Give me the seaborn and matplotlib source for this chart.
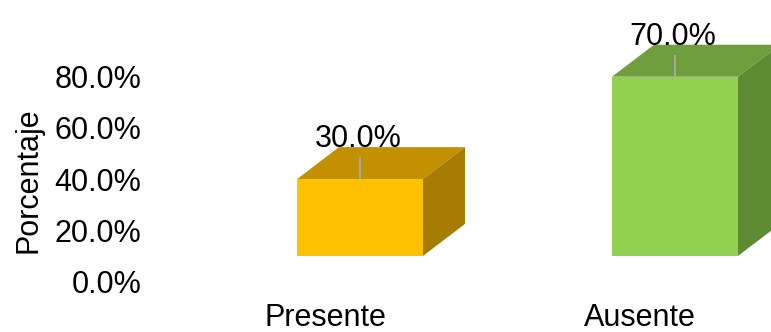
import matplotlib
matplotlib.use("Agg")
import matplotlib.pyplot as plt
from matplotlib.patches import Polygon
from matplotlib.transforms import ScaledTranslation
import seaborn as sns
import pandas as pd

categorias = ["Presente", "Ausente"]
porcentajes = [30.0, 70.0]
colores_frente = ["#FFC000", "#92D050"]
colores_techo = ["#C39100", "#6F9E3D"]
colores_lado = ["#A67C00", "#5E8A31"]
ticks_y = [0, 20, 40, 60, 80]

sns.set_theme(style="white")
plt.rcParams["font.family"] = ["Liberation Sans", "DejaVu Sans"]
plt.rcParams["text.color"] = "black"
plt.rcParams["xtick.color"] = "black"
plt.rcParams["ytick.color"] = "black"

df = pd.DataFrame({"categoria": categorias, "porcentaje": porcentajes})

fig = plt.figure(figsize=(7.71, 3.32), dpi=100)
ax = fig.add_axes([0.2218, 0.1521, 0.7763, 0.8096])

sns.barplot(data=df, x="categoria", y="porcentaje", hue="categoria",
            palette=colores_frente, width=0.4, legend=False, ax=ax,
            linewidth=0, saturation=1)

ax.set_xlim(-0.6, 1.3)
ax.set_ylim(0, 105)

# 3D-style box: floor raised, depth offset up and to the right
piso = 10.0
prof_x = 0.1333
prof_y = 12.5

for i, p in enumerate(ax.patches):
    p.set_y(piso)
    p.set_zorder(3)
    x0 = p.get_x()
    x1 = x0 + p.get_width()
    y0 = piso
    y1 = piso + p.get_height()
    techo = Polygon([(x0, y1), (x1, y1), (x1 + prof_x, y1 + prof_y), (x0 + prof_x, y1 + prof_y)],
                    closed=True, facecolor=colores_techo[i], edgecolor="none",
                    zorder=2, clip_on=False)
    lado = Polygon([(x1, y0), (x1 + prof_x, y0 + prof_y), (x1 + prof_x, y1 + prof_y), (x1, y1)],
                   closed=True, facecolor=colores_lado[i], edgecolor="none",
                   zorder=2, clip_on=False)
    ax.add_patch(techo)
    ax.add_patch(lado)
    xc = x0 + p.get_width() / 2
    ax.plot([xc, xc], [y1, y1 + 8.5], color="#A6A6A6", lw=1.5, zorder=4,
            solid_capstyle="butt", clip_on=False)
    ax.text(xc - 0.006, y1 + prof_y, f"{porcentajes[i]:.1f}%", ha="center",
            va="baseline", fontsize=22, color="black", zorder=5, clip_on=False)

ax.set_yticks(ticks_y)
ax.set_yticklabels([f"{t:.1f}%" for t in ticks_y], fontsize=22, color="black")
ax.tick_params(axis="y", length=0, pad=21.5, colors="black")
ax.tick_params(axis="x", length=0, pad=15.5, colors="black")
ax.set_xticks(range(len(categorias)))
ax.set_xticklabels(categorias, fontsize=22, color="black")

# category labels sit slightly left of the front faces
desplaza = ScaledTranslation(-35 / 100, 0, fig.dpi_scale_trans)
for lbl in ax.get_xticklabels():
    lbl.set_transform(lbl.get_transform() + desplaza)

ax.set_xlabel("")
ax.set_ylabel("")
fig.text(28 / 771, 1 - 180 / 332, "Porcentaje", rotation=90, ha="center",
         va="center", fontsize=22, color="black")

for s in ax.spines.values():
    s.set_visible(False)
ax.grid(False)

fig.savefig("out.png", dpi=100, facecolor="white")
